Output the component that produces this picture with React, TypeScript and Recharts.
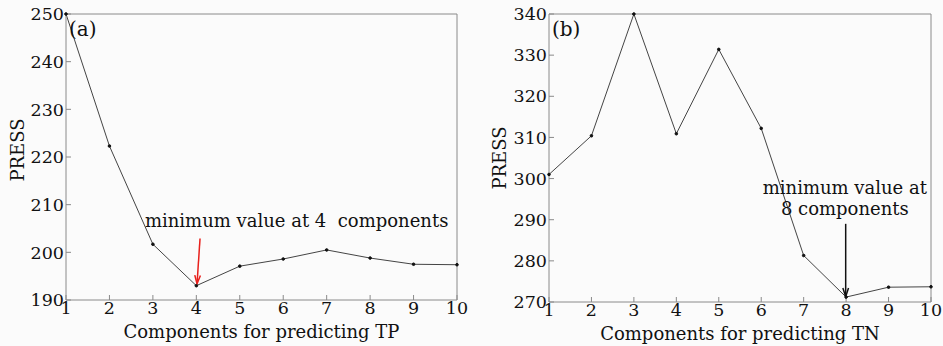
import {
  LineChart,
  Line,
  XAxis,
  YAxis,
  ReferenceLine,
  ReferenceDot,
} from "recharts";

const components = [1, 2, 3, 4, 5, 6, 7, 8, 9, 10];
const pressTP = [250, 222.3, 201.7, 193.0, 197.1, 198.6, 200.5, 198.8, 197.5, 197.4];
const pressTN = [301.0, 310.4, 340, 310.9, 331.4, 312.2, 281.3, 271.2, 273.6, 273.7];
const ticksTP = [190, 200, 210, 220, 230, 240, 250];
const ticksTN = [270, 280, 290, 300, 310, 320, 330, 340];

const FONT = "'DejaVu Serif', serif";
const FRAME = "#8a8a8a";
const BG = "#fbfbfb";

const tickStyle = { fontSize: 17.5, fill: "#111", fontFamily: FONT };

function Arrow(props: any) {
  const { x1, y1, x2, y2, color } = props;
  const ang = Math.atan2(y2 - y1, x2 - x1);
  const len = 9;
  const w = 0.32;
  const ax = x2 - len * Math.cos(ang - w);
  const ay = y2 - len * Math.sin(ang - w);
  const bx = x2 - len * Math.cos(ang + w);
  const by = y2 - len * Math.sin(ang + w);
  return (
    <g>
      <line x1={x1} y1={y1} x2={x2} y2={y2} stroke={color} strokeWidth={1.5} />
      <path d={`M${ax},${ay} L${x2},${y2} L${bx},${by}`} fill="none" stroke={color} strokeWidth={1.5} />
    </g>
  );
}

function TextAt(lines: string[], size = 18) {
  return (p: any) => (
    <text
      x={p.cx}
      y={p.cy}
      textAnchor="middle"
      dominantBaseline="central"
      fontFamily={FONT}
      fontSize={size}
      fill="#111"
    >
      {lines.map((l, i) => (
        <tspan key={i} x={p.cx} dy={i === 0 ? 0 : "1.15em"} style={{ whiteSpace: "pre" }}>
          {l}
        </tspan>
      ))}
    </text>
  );
}

function PanelLabel(label: string) {
  return (p: any) => (
    <text x={p.cx + 3} y={p.cy + 22} fontFamily={FONT} fontSize={20} fill="#111">
      {label}
    </text>
  );
}

function yTitle(offsetX: number, offsetY: number) {
  return ({ viewBox }: any) => {
    const x = viewBox.x + offsetX;
    const y = viewBox.y + viewBox.height / 2 + offsetY;
    return (
      <text
        x={x}
        y={y}
        transform={`rotate(-90, ${x}, ${y})`}
        textAnchor="middle"
        dominantBaseline="central"
        fontFamily={FONT}
        fontSize={18}
        fill="#111"
      >
        PRESS
      </text>
    );
  };
}

interface PanelProps {
  values: number[];
  yTicks: number[];
  xTitle: string;
  width: number;
  margin: { top: number; right: number; bottom: number; left: number };
  yAxisWidth: number;
  titleX: number;
  titleDy: number;
  children?: React.ReactNode;
}

function Panel({ values, yTicks, xTitle, width, margin, yAxisWidth, titleX, titleDy, children }: PanelProps) {
  const data = components.map((c, i) => ({ c, v: values[i] }));
  const yMin = yTicks[0];
  const yMax = yTicks[yTicks.length - 1];
  return (
    <LineChart width={width} height={346} data={data} margin={margin}>
      <XAxis
        dataKey="c"
        type="number"
        domain={[1, 10]}
        ticks={components}
        interval={0}
        stroke={FRAME}
        tickSize={-5}
        tickMargin={7}
        tick={tickStyle}
        height={40}
        label={{
          value: xTitle,
          position: "insideBottom",
          offset: 2,
          fontSize: 18,
          fill: "#111",
          fontFamily: FONT,
        }}
      />
      <XAxis
        xAxisId="top"
        dataKey="c"
        type="number"
        orientation="top"
        domain={[1, 10]}
        ticks={components}
        interval={0}
        stroke={FRAME}
        tickSize={-5}
        tick={false}
        height={1}
      />
      <YAxis
        type="number"
        domain={[yMin, yMax]}
        ticks={yTicks}
        interval={0}
        stroke={FRAME}
        tickSize={-5}
        tickMargin={7}
        tick={tickStyle}
        width={yAxisWidth}
        label={yTitle(titleX, titleDy)}
      />
      <YAxis
        yAxisId="right"
        type="number"
        orientation="right"
        domain={[yMin, yMax]}
        ticks={yTicks}
        interval={0}
        stroke={FRAME}
        tickSize={-5}
        tick={false}
        width={1}
      />
      <Line
        dataKey="v"
        stroke="#444"
        strokeWidth={1}
        dot={{ r: 1.3, fill: "#111", stroke: "#111" }}
        isAnimationActive={false}
      />
      {children}
    </LineChart>
  );
}

export default function App() {
  return (
    <div
      style={{
        position: "absolute",
        left: 0,
        top: 0,
        width: 943,
        height: 346,
        background: BG,
        display: "flex",
      }}
    >
      <Panel
        values={pressTP}
        yTicks={ticksTP}
        xTitle="Components for predicting TP"
        width={470}
        margin={{ top: 13, right: 12, bottom: 6, left: 0 }}
        yAxisWidth={66}
        titleX={17}
        titleDy={-7}
      >
        <ReferenceDot x={1} y={250} r={0} shape={PanelLabel("(a)")} />
        <ReferenceDot x={6.31} y={206.7} r={0} shape={TextAt(["minimum value at 4  components"])} />
        <ReferenceLine
          segment={[
            { x: 4.085, y: 202.9 },
            { x: 4.016, y: 193.4 },
          ]}
          shape={(p: any) => <Arrow {...p} color="#e8201c" />}
        />
      </Panel>
      <Panel
        values={pressTN}
        yTicks={ticksTN}
        xTitle="Components for predicting TN"
        width={473}
        margin={{ top: 13, right: 11, bottom: 4, left: 0 }}
        yAxisWidth={79}
        titleX={29}
        titleDy={0}
      >
        <ReferenceDot x={1} y={340} r={0} shape={PanelLabel("(b)")} />
        <ReferenceDot x={7.97} y={297.9} r={0} shape={TextAt(["minimum value at", "8 components"])} />
        <ReferenceLine
          segment={[
            { x: 7.99, y: 289 },
            { x: 7.99, y: 271.3 },
          ]}
          shape={(p: any) => <Arrow {...p} color="#111" />}
        />
      </Panel>
    </div>
  );
}
